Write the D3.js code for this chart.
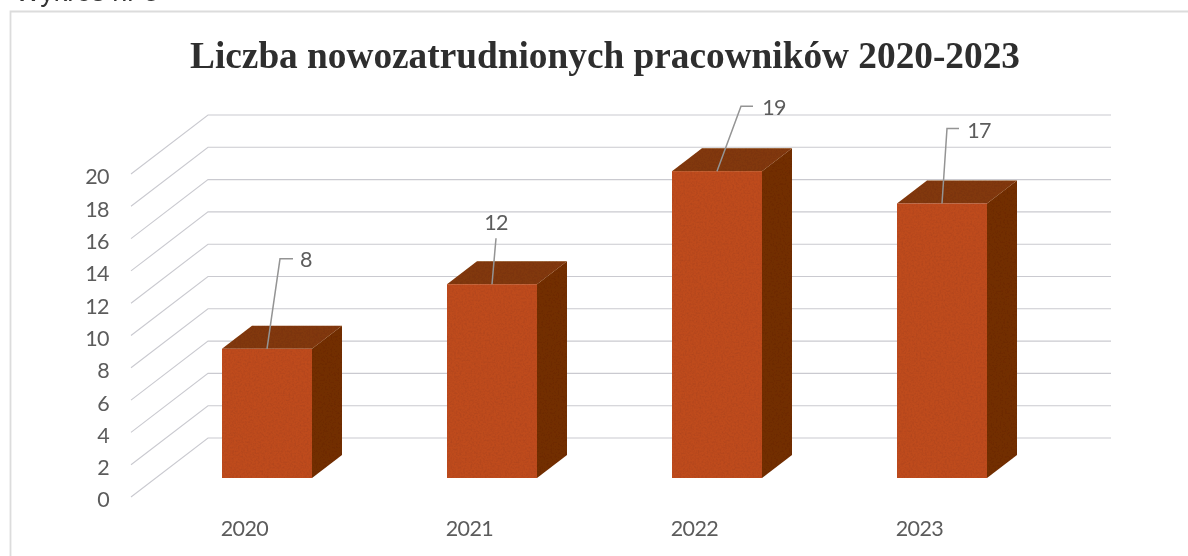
<!DOCTYPE html>
<html lang="pl">
<head>
<meta charset="utf-8">
<script src="https://cdn.jsdelivr.net/npm/d3@7/dist/d3.min.js"></script>
<style>
html,body{margin:0;padding:0;background:#fff;overflow:hidden}
svg{display:block;filter:blur(0.65px)}
</style>
</head>
<body>
<svg id="chart" width="1188" height="556"></svg>
<script>
const captionText = "Wykres nr 3";
const titleText = "Liczba nowozatrudnionych pracowników 2020-2023";
const years = ["2020", "2021", "2022", "2023"];
const hires = [8, 12, 19, 17];
const yTicks = [0, 2, 4, 6, 8, 10, 12, 14, 16, 18, 20];

// leader-line layout, relative to the top-front centre of each bar
const leaderElbow = [[13, -90], [4, -46], [24, -65], [5, -75]];
const leaderEnd = [[26, -90], [4, -46], [36, -65], [17, -75]];
const labelShift = [[39, -87], [4, -60], [57, -62], [37, -71]];

const svg = d3.select("#chart");
const W = 1188, H = 556;

// print-grain texture for the bar faces
const grain = svg.append("defs").append("filter").attr("id", "grain")
  .attr("x", 0).attr("y", 0).attr("width", 1).attr("height", 1);
grain.append("feTurbulence").attr("type", "fractalNoise").attr("baseFrequency", 0.55)
  .attr("numOctaves", 2).attr("seed", 4).attr("result", "n");
grain.append("feColorMatrix").attr("in", "n").attr("type", "matrix")
  .attr("values", "0 0 0 0 0  0 0 0 0 0  0 0 0 0 0  1.1 0 0 0 -0.38").attr("result", "d");
grain.append("feComposite").attr("in", "d").attr("in2", "SourceAlpha").attr("operator", "in").attr("result", "c");
grain.append("feComponentTransfer").attr("in", "c").attr("result", "soft")
  .append("feFuncA").attr("type", "linear").attr("slope", 0.28);
const gm = grain.append("feMerge");
gm.append("feMergeNode").attr("in", "SourceGraphic");
gm.append("feMergeNode").attr("in", "soft");

const depth = {dx: 77, dy: -59};
const barBaseDrop = -19;
const barDepth = {dx: 30, dy: -23};

const y = d3.scaleLinear().domain([0, 20]).range([497, 174]);
const x = d3.scaleBand().domain(years).range([154.5, 1054.5]).paddingInner(0.6).paddingOuter(0.3);
const gridLeft = 131, gridRight = 1111;

// frame
svg.append("path")
  .attr("d", `M10.5,${H}V11.5H${W}`)
  .attr("fill", "none").attr("stroke", "#dcdcdc").attr("stroke-width", 1.8);

// caption cut off by the top of the page, as in the scan
svg.append("text").text(captionText)
  .attr("x", 15).attr("y", 1)
  .attr("font-family", "'Liberation Sans', sans-serif").attr("font-size", 27).attr("fill", "#333");

// title
svg.append("text").text(titleText)
  .attr("x", 605).attr("y", 68).attr("text-anchor", "middle")
  .attr("font-family", "'Liberation Serif', serif").attr("font-weight", "bold")
  .attr("font-size", 37.3).attr("fill", "#2e2e2e");

// gridlines: diagonal wall plus back wall
const grid = svg.append("g").attr("fill", "none").attr("stroke", "#cacad0").attr("stroke-width", 1.1);
grid.selectAll("path").data(yTicks).join("path")
  .attr("d", d => {
    const p = d3.path();
    p.moveTo(gridLeft, y(d));
    p.lineTo(gridLeft + depth.dx, y(d) + depth.dy);
    p.lineTo(gridRight, y(d) + depth.dy);
    return p.toString();
  });

const labelFont = {family: "Lato, sans-serif", size: 21.5, spacing: -0.6, fill: "#5c5c5c"};

// y tick labels
svg.append("g").selectAll("text").data(yTicks).join("text")
  .text(d => d)
  .attr("x", 109).attr("y", d => y(d) + 5)
  .attr("text-anchor", "end").attr("dominant-baseline", "middle")
  .attr("font-family", labelFont.family).attr("font-size", labelFont.size)
  .attr("letter-spacing", labelFont.spacing).attr("fill", labelFont.fill);

// x tick labels
svg.append("g").selectAll("text").data(years).join("text")
  .text(d => d)
  .attr("x", d => x(d) + x.bandwidth() / 2 - 22.5).attr("y", 531)
  .attr("text-anchor", "middle").attr("dominant-baseline", "middle")
  .attr("font-family", labelFont.family).attr("font-size", labelFont.size)
  .attr("letter-spacing", labelFont.spacing).attr("fill", labelFont.fill);

// bars
const rows = years.map((year, i) => ({year, value: hires[i], i}));
const base = y(0) + barBaseDrop;
const topOf = d => y(d.value) + barBaseDrop;

const bars = svg.append("g").selectAll("g").data(rows).join("g").attr("filter", "url(#grain)");
bars.append("path").attr("fill", "#732d06").attr("d", d => {
  const r = x(d.year) + x.bandwidth();
  return `M${r},${topOf(d)}L${r + barDepth.dx},${topOf(d) + barDepth.dy}V${base + barDepth.dy}L${r},${base}Z`;
});
bars.append("path").attr("fill", "#823708").attr("d", d => {
  const l = x(d.year), r = l + x.bandwidth(), t = topOf(d);
  return `M${l},${t}L${l + barDepth.dx},${t + barDepth.dy}H${r + barDepth.dx}L${r},${t}Z`;
});
bars.append("rect").attr("fill", "#bf4c1d")
  .attr("x", d => x(d.year)).attr("y", topOf)
  .attr("width", x.bandwidth()).attr("height", d => base - topOf(d));

// leaders and data labels
const cx = d => x(d.year) + x.bandwidth() / 2;
svg.append("g").selectAll("path").data(rows).join("path")
  .attr("fill", "none").attr("stroke", "#949494").attr("stroke-width", 1.5)
  .attr("d", d => {
    const t = topOf(d), c = cx(d), e = leaderElbow[d.i], n = leaderEnd[d.i];
    return `M${c},${t}L${c + e[0]},${t + e[1]}L${c + n[0]},${t + n[1]}`;
  });
svg.append("g").selectAll("text").data(rows).join("text")
  .text(d => d.value)
  .attr("x", d => cx(d) + labelShift[d.i][0])
  .attr("y", d => topOf(d) + labelShift[d.i][1])
  .attr("text-anchor", "middle").attr("dominant-baseline", "middle")
  .attr("font-family", labelFont.family).attr("font-size", labelFont.size)
  .attr("letter-spacing", labelFont.spacing).attr("fill", labelFont.fill);
</script>
</body>
</html>
